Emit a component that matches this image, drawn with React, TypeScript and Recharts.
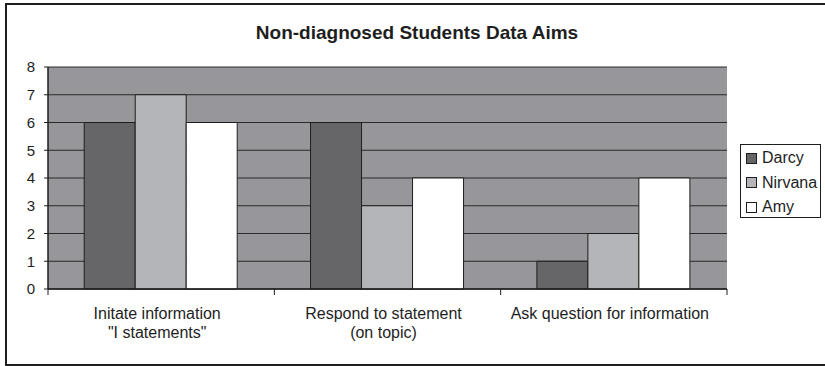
import { Bar, BarChart, CartesianGrid, XAxis, YAxis } from 'recharts'

const categories = [
  'Initate information\n"I statements"',
  'Respond to statement\n(on topic)',
  'Ask question for information',
]
const seriesNames = ['Darcy', 'Nirvana', 'Amy']
const darcy = [6, 6, 1]
const nirvana = [7, 3, 2]
const amy = [6, 4, 4]
const yTicks = [0, 1, 2, 3, 4, 5, 6, 7, 8]

const data = categories.map((name, i) => ({
  name,
  Darcy: darcy[i],
  Nirvana: nirvana[i],
  Amy: amy[i],
}))

const colors: Record<string, string> = { Darcy: '#666668', Nirvana: '#b4b5b9', Amy: '#ffffff' }

const font = '"Liberation Sans", Arial, sans-serif'
const ink = '#1e1e1e'
const W = 825
const H = 366
const margin = { top: 67, right: 98, bottom: 0, left: 0 }
const yAxisWidth = 48
const band = (W - margin.right - yAxisWidth) / categories.length

function CategoryTick(props: any) {
  const { x, y, payload } = props
  const idx = categories.indexOf(payload.value)
  const lines = String(payload.value).split('\n')
  return (
    <g>
      <line x1={x - band / 2} x2={x - band / 2} y1={y} y2={y + 6} stroke={ink} />
      {idx === categories.length - 1 && (
        <line x1={x + band / 2} x2={x + band / 2} y1={y} y2={y + 6} stroke={ink} />
      )}
      <text x={x - 4} y={y + 30} textAnchor="middle" fontSize={16} fill={ink} fontFamily={font}>
        {lines.map((l, i) => (
          <tspan key={i} x={x - 4} dy={i === 0 ? 0 : 19}>
            {l}
          </tspan>
        ))}
      </text>
    </g>
  )
}

function LegendBox() {
  return (
    <div
      style={{
        position: 'absolute',
        left: 740,
        top: 144,
        border: `1px solid ${ink}`,
        background: '#fff',
        boxSizing: 'border-box',
        width: 81,
        height: 74,
        paddingTop: 1,
        fontFamily: font,
        fontSize: 16,
        color: ink,
      }}
    >
      {seriesNames.map((name) => (
        <div key={name} style={{ display: 'flex', alignItems: 'center', height: 24.5 }}>
          <span
            style={{
              display: 'inline-block',
              width: 9,
              height: 9,
              marginLeft: 5,
              marginRight: 5,
              background: colors[name],
              border: `1px solid ${ink}`,
            }}
          />
          {name}
        </div>
      ))}
    </div>
  )
}

export default function App() {
  return (
    <div style={{ position: 'absolute', left: 0, top: 0, width: W, height: H, background: '#fff', overflow: 'hidden' }}>
      <div
        style={{
          position: 'absolute',
          left: 5,
          top: 3,
          width: W,
          height: H - 3,
          border: `2px solid ${ink}`,
          boxSizing: 'border-box',
        }}
      />
      <div
        style={{
          position: 'absolute',
          left: 417,
          top: 22,
          transform: 'translateX(-50%)',
          whiteSpace: 'nowrap',
          fontFamily: font,
          fontWeight: 'bold',
          fontSize: 19,
          lineHeight: '22px',
          color: ink,
        }}
      >
        Non-diagnosed Students Data Aims
      </div>
      <BarChart
        width={W}
        height={H}
        data={data}
        margin={margin}
        barGap={0}
        barCategoryGap="16%"
        style={{ position: 'absolute', left: 0, top: 0 }}
      >
        <CartesianGrid vertical={false} fill="#97979b" stroke="#2a2a2a" fillOpacity={1} />
        <XAxis
          dataKey="name"
          height={H - 289}
          tickSize={0}
          tickMargin={0}
          tickLine={false}
          axisLine={{ stroke: ink, strokeWidth: 1.5 }}
          tick={<CategoryTick />}
          interval={0}
        />
        <YAxis
          width={yAxisWidth}
          domain={[0, 8]}
          ticks={yTicks}
          interval={0}
          tickSize={4}
          tickMargin={9}
          tickLine={{ stroke: ink }}
          axisLine={{ stroke: ink, strokeWidth: 1.5 }}
          tick={{ fontSize: 15, fill: ink, fontFamily: font }}
        />
        <YAxis
          yAxisId="right"
          orientation="right"
          width={0}
          domain={[0, 8]}
          ticks={yTicks}
          tick={false}
          tickLine={false}
          axisLine={{ stroke: ink, strokeWidth: 1.5 }}
        />
        {seriesNames.map((name) => (
          <Bar
            key={name}
            dataKey={name}
            fill={colors[name]}
            stroke={ink}
            strokeWidth={1}
            isAnimationActive={false}
          />
        ))}
      </BarChart>
      <LegendBox />
    </div>
  )
}
